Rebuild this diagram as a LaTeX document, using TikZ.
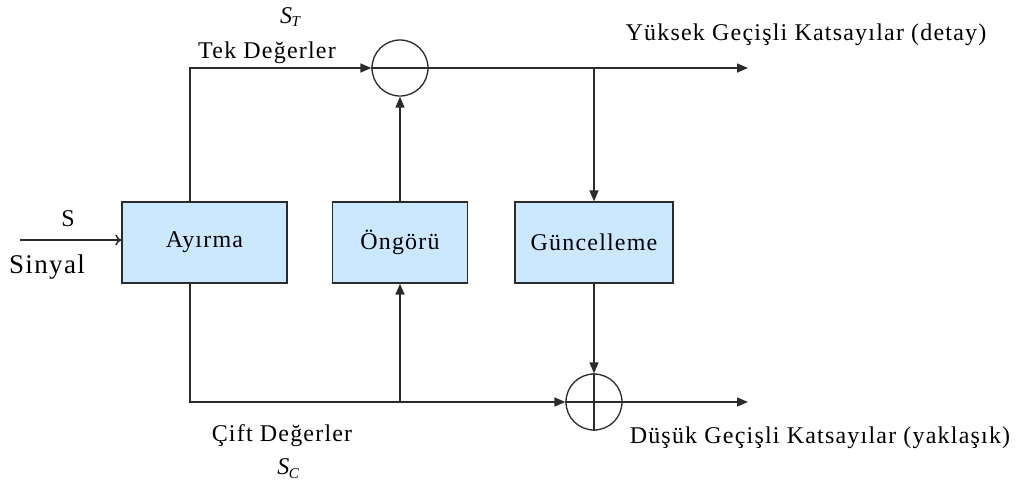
\documentclass[tikz,border=0pt]{standalone}
\usepackage{fontspec}
\setmainfont{Liberation Serif}[LetterSpace=5]
\usetikzlibrary{arrows.meta}
\definecolor{boxfill}{HTML}{CCE8FF}
\definecolor{edge}{HTML}{2B2B2B}
\tikzset{
  block/.style={draw=edge, line width=1.4pt, fill=boxfill, minimum height=81pt, inner sep=0pt,
                font=\fontsize{24}{28}\selectfont},
  sumnode/.style={draw=edge, line width=1.3pt, circle, minimum size=56pt, inner sep=0pt},
  wire/.style={draw=edge, line width=1.5pt},
  flow/.style={wire, -{Triangle[length=11pt,width=9pt]}},
  lbl/.style={font=\fontsize{24}{28}\selectfont, inner sep=0pt}
}
\newcommand{\subS}[1]{{\itshape S}\kern-0.5pt\raisebox{-0.35ex}{\fontsize{15}{17}\selectfont\itshape #1}}
\begin{document}
\begin{tikzpicture}[x=1pt, y=-1pt]
\useasboundingbox (0,0) rectangle (1024,491);

% processing blocks
\node[block, minimum width=165pt] (split) at (204.5,242.5) {Ayırma};
\node[block, minimum width=135pt] (pred)  at (400,242.5) {Öngörü};
\node[block, minimum width=158pt] (upd)   at (594,242.5)   {Güncelleme};

% summing junctions
\node[sumnode] (subt) at (400,68) {};
\node[sumnode] (add)  at (594,402) {};
\draw[line width=1.2pt, draw=edge] (subt.west) -- (subt.east);
\draw[line width=1.2pt, draw=edge] (add.west) -- (add.east);
\draw[line width=1.2pt, draw=edge] (add.north) -- (add.south);

% corner and branch points
\coordinate (oddc)  at (190,68);
\coordinate (evenc) at (190,402);
\coordinate (hibr)  at (594,68);
\coordinate (lobr)  at (400,402);
\coordinate (hiout) at (748,68);
\coordinate (loout) at (748,402);
\coordinate (sin)   at (20,240);

% input signal
\draw[wire, -{To[length=6pt,width=11pt]}] (sin) -- (sin -| split.west);

% odd branch
\draw[flow] (split.north -| oddc) -- (oddc) -- (subt.west);
\draw[flow] (pred.north) -- (subt.south);
\draw[flow] (subt.east) -- (hiout);
\draw[flow] (hibr) -- (upd.north);

% even branch
\draw[flow] (split.south -| evenc) -- (evenc) -- (add.west);
\draw[flow] (lobr) -- (pred.south);
\draw[flow] (upd.south) -- (add.north);
\draw[flow] (add.east) -- (loout);

% labels
\node[lbl] (ls)    at (68,219)  {S};
\node[lbl, font=\fontsize{27}{31}\selectfont] (lsin) at (47,267) {Sinyal};
\node[lbl] (lst)   at (290,17)  {\subS{T}};
\node[lbl] (ltek)  at (267,53)  {Tek Değerler};
\node[lbl] (lcift) at (282,436) {Çift Değerler};
\node[lbl] (lsc)   at (288,469) {\subS{C}};
\node[lbl] (lhi)   at (806,35)  {Yüksek Geçişli Katsayılar (detay)};
\node[lbl] (llo)   at (820,438) {Düşük Geçişli Katsayılar (yaklaşık)};
\end{tikzpicture}
\end{document}
